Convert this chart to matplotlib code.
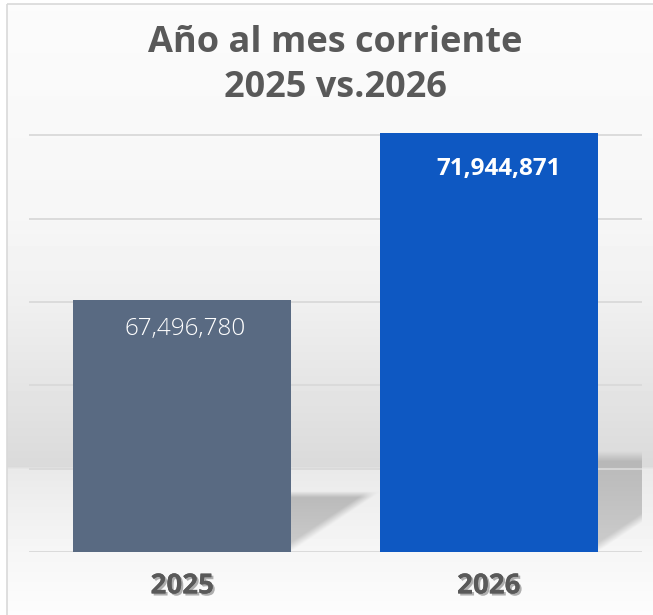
import numpy as np
import matplotlib
matplotlib.use('Agg')
import matplotlib.pyplot as plt
from matplotlib import patheffects
from matplotlib.patches import Polygon, Rectangle

# data
years = ['2025', '2026']
values = [67496780, 71944871]
value_labels = ['67,496,780', '71,944,871']
title_lines = ['Año al mes corriente', '2025 vs.2026']

bar_colors = ['#596a82', '#0e58c2']
label_weights = ['light', 'bold']
label_offsets = [(2, -21), (7, -26)]   # points, from the bar top
text_gray = '#595959'

plt.rcParams['font.family'] = ['Open Sans', 'DejaVu Sans']

W, H = 653, 615
fig = plt.figure(figsize=(W / 100, H / 100), dpi=100)

# background: soft vertical gradient with a "floor" step, and a thin frame
bg = fig.add_axes([0, 0, 1, 1], zorder=-10)
rows = np.arange(H)
stops_y = [4, 220, 300, 380, 466, 469, 552, 615]
stops_c = [0.985, 0.965, 0.94, 0.90, 0.855, 0.915, 0.965, 0.99]
col = np.interp(rows, stops_y, stops_c)
img = np.repeat(col[:, None], W, axis=1)
img[:4, :] = 1
img[:, :7] = 1
bg.imshow(img, cmap='gray', vmin=0, vmax=1, aspect='auto',
          extent=(0, W, H, 0), interpolation='nearest')
bg.set_xlim(0, W)
bg.set_ylim(H, 0)
bg.axis('off')
bg.add_patch(Rectangle((7, 4), W, H, fill=False, edgecolor='#d9d9d9', lw=1.2))

# main axes
ax = fig.add_axes([29 / W, (H - 552) / H, (642 - 29) / W, (552 - 132.6) / H])
ax.patch.set_alpha(0)
y0, ytop, y1 = 60.78e6, 71.878e6, 71.95e6
ax.set_xlim(-0.5, 1.5)
ax.set_ylim(y0, y1)
ax.set_yticks(np.linspace(y0, ytop, 6))
ax.yaxis.grid(True, color='#d9d9d9', lw=1.3)
ax.set_axisbelow('line')
ax.tick_params(axis='y', left=False, labelleft=False)
for s in ax.spines.values():
    s.set_visible(False)

width = 0.71
x = np.arange(len(years))
ax.bar(x, values, width=width, color=bar_colors, zorder=2)

# perspective shadows behind the bars, soft at the top and along the slanted edge
bbox = ax.get_window_extent()
ypx = bbox.height / (y1 - y0)
xpx = bbox.width / 2.0
for i, v in enumerate(values):
    h = 0.24 * (v - y0)
    dx = 1.5 * h * ypx / xpx
    xl, xr = i - width / 2, i + width / 2
    corners = [(xl, y0), (xr, y0), (xr + dx, y0 + h), (xl + dx, y0 + h)]
    poly = Polygon(corners, closed=True, transform=ax.transData)
    nx, ny = 240, 120
    X, Y = np.meshgrid(np.linspace(xl, xr + dx, nx), np.linspace(y0 + h, y0, ny))
    s = (Y - y0) / h
    edge_dist = (xr + dx * s - X) * xpx
    fade = np.clip(edge_dist / 14.0, 0, 1)
    vert = np.interp(1 - s, [0, 0.1, 1], [0.0, 0.85, 0.6])
    rgba = np.zeros((ny, nx, 4))
    rgba[..., :3] = 0.70
    rgba[..., 3] = vert * fade
    im = ax.imshow(rgba, extent=(xl, xr + dx, y0, y0 + h),
                   origin='upper', aspect='auto', zorder=1, interpolation='bilinear')
    im.set_clip_path(poly)

ax.set_xlim(-0.5, 1.5)
ax.set_ylim(y0, y1)

for i, v in enumerate(values):
    ax.annotate(value_labels[i], xy=(i, v), xytext=label_offsets[i],
                textcoords='offset points', ha='center', va='center',
                color='white', fontsize=17.5, fontweight=label_weights[i], zorder=3)

ax.set_xticks(x, years)
ax.tick_params(axis='x', length=0, pad=14, labelsize=20, labelcolor=text_gray)
for lab in ax.get_xticklabels():
    lab.set_fontweight('bold')
    lab.set_path_effects([patheffects.withSimplePatchShadow(offset=(1.5, -1.5),
                                                            shadow_rgbFace='black', alpha=0.3),
                          patheffects.Normal()])

cx = (29 + 642) / 2 / W
fig.text(cx, 1 - 52 / H, title_lines[0], ha='center', va='baseline',
         fontsize=26, fontweight='bold', color=text_gray)
fig.text(cx, 1 - 97 / H, title_lines[1], ha='center', va='baseline',
         fontsize=26, fontweight='bold', color=text_gray)

fig.savefig('out.png', dpi=100)
